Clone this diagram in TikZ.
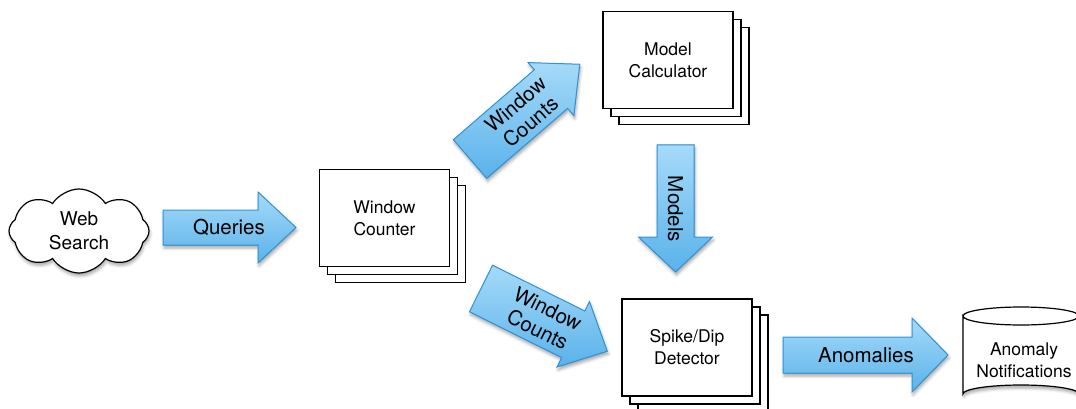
\documentclass[tikz,border=0pt]{standalone}
\usepackage{fontspec}
\setmainfont{TeX Gyre Heros}
\usetikzlibrary{shapes.symbols,shadows,shadows.blur}
\definecolor{arrowtop}{HTML}{A6DAF9}
\definecolor{arrowbot}{HTML}{5AB2EA}
\definecolor{arrowline}{HTML}{2E93D8}
\tikzset{
  softshadow/.style={blur shadow={shadow xshift=1pt, shadow yshift=-3pt, shadow blur radius=3pt, shadow opacity=35}},
  flowarrow/.style={draw=arrowline, line width=1pt, top color=arrowtop, bottom color=arrowbot, line join=miter, softshadow},
  arrowlabel/.style={font=\fontsize{20.5}{23}\selectfont, align=center, inner sep=0pt, transform shape},
  stackbox/.style={draw, line width=1.2pt, fill=white, minimum width=130pt, minimum height=97pt, inner sep=0pt},
  boxtext/.style={font=\fontsize{17.5}{22}\selectfont, align=center, inner sep=0pt},
}
\newcommand\stacknode[4]{%
  \node[stackbox] (#1-back2) at (#2+16,#3+16) {};
  \node[stackbox] (#1-back1) at (#2+8,#3+8) {};
  \node[stackbox, boxtext] (#1) at (#2,#3) {#4};
}
% name, tail x, tail y, angle, body length, body half width, head length, head half width, text pos
\newcommand\blockarrow[9]{%
  \begin{scope}[shift={(#2,#3)}, rotate=#4]
    \filldraw[flowarrow] (0,-#6) -- (#5,-#6) -- (#5,-#8) -- (#5+#7,0) -- (#5,#8) -- (#5,#6) -- (0,#6) -- cycle;
    \node[arrowlabel] (#1) at (#9,0) {\arrowtext};
  \end{scope}
}
\begin{document}
\begin{tikzpicture}[x=1pt, y=-1pt]
\useasboundingbox (0,0) rectangle (1076,409);

% Web search cloud
\node[cloud, cloud puffs=8, cloud puff arc=115, aspect=1.75, draw, line width=1.2pt, fill=white,
      minimum width=140pt, minimum height=84pt, inner sep=0pt, softshadow,
      font=\fontsize{19}{24}\selectfont, align=center] (web) at (79,231) {Web\\Search};

% stacked boxes
\stacknode{counter}{384.5}{218}{Window\\Counter}
\stacknode{model}{668}{60}{Model\\Calculator}
\stacknode{detector}{687}{347.5}{Spike/Dip\\Detector}

% cylinder
\path[draw, line width=1.2pt, fill=white, softshadow]
  (963,316) -- (963,394) arc[start angle=180, end angle=360, x radius=58, y radius=9]
  -- (1079,316) arc[start angle=0, end angle=180, x radius=58, y radius=9] -- cycle;
\draw[line width=1.2pt] (963,316) arc[start angle=180, end angle=360, x radius=58, y radius=9];
\node[boxtext] (notif) at (1024,360) {Anomaly\\Notifications};

% block arrows
\def\arrowtext{Queries}
\blockarrow{queries}{163}{227.5}{0}{95}{17.5}{38}{35.5}{66}
\def\arrowtext{Window\\Counts}
\blockarrow{countsup}{470}{159}{40.8}{107}{25.5}{38}{35}{70}
\def\arrowtext{Models}
\blockarrow{models}{675.5}{145}{-90}{92}{18.5}{35}{37}{64}
\def\arrowtext{Window\\Counts}
\blockarrow{countsdown}{481}{288.5}{-26.4}{103}{26}{38}{36.5}{69}
\def\arrowtext{Anomalies}
\blockarrow{anomalies}{783}{355}{0}{129}{18}{36}{37}{83}
\end{tikzpicture}
\end{document}
